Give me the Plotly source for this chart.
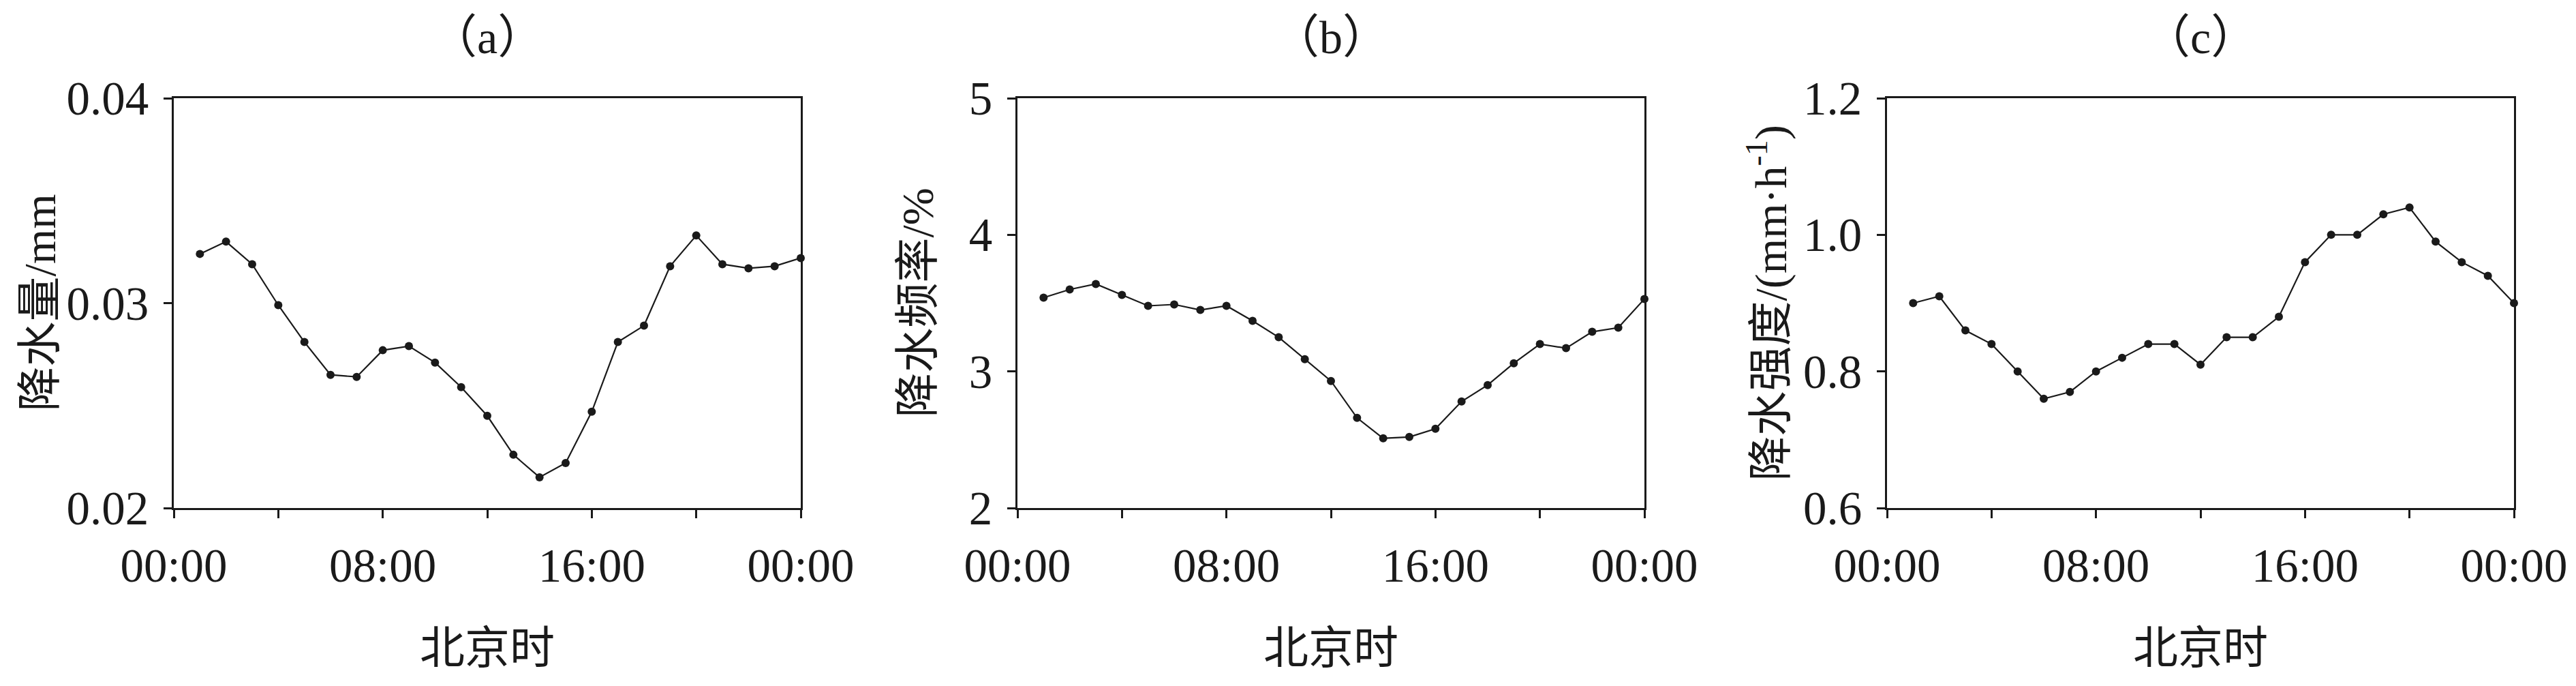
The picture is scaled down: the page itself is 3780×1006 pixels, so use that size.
import plotly.graph_objects as go

hours = list(range(1, 25))
precip_amount = [0.0324, 0.0330, 0.0319, 0.0299, 0.0281, 0.0265, 0.0264, 0.0277, 0.0279, 0.0271,
                 0.0259, 0.0245, 0.0226, 0.0215, 0.0222, 0.0247, 0.0281, 0.0289, 0.0318, 0.0333,
                 0.0319, 0.0317, 0.0318, 0.0322]
precip_freq = [3.54, 3.60, 3.64, 3.56, 3.48, 3.49, 3.45, 3.48, 3.37, 3.25,
               3.09, 2.93, 2.66, 2.51, 2.52, 2.58, 2.78, 2.90, 3.06, 3.20,
               3.17, 3.29, 3.32, 3.53]
precip_int = [0.90, 0.91, 0.86, 0.84, 0.80, 0.76, 0.77, 0.80, 0.82, 0.84,
              0.84, 0.81, 0.85, 0.85, 0.88, 0.96, 1.00, 1.00, 1.03, 1.04,
              0.99, 0.96, 0.94, 0.90]

x_tickvals = [0, 8, 16, 24]
x_ticktext = ["00:00", "08:00", "16:00", "00:00"]

panels = [
    dict(label="（a）", ytitle="降水量/mm", y=precip_amount, yrange=[0.02, 0.04],
         yticks=[0.02, 0.03, 0.04], ytext=["0.02", "0.03", "0.04"]),
    dict(label="（b）", ytitle="降水频率/%", y=precip_freq, yrange=[2, 5],
         yticks=[2, 3, 4, 5], ytext=["2", "3", "4", "5"]),
    dict(label="（c）", ytitle="降水强度/(mm·h<sup>-1</sup>)", y=precip_int, yrange=[0.6, 1.2],
         yticks=[0.6, 0.8, 1.0, 1.2], ytext=["0.6", "0.8", "1.0", "1.2"]),
]

W, H = 3780, 1006
left_px = [247, 1485, 2761]
plot_w = 920
top_px, bot_px = 136, 737
ytitle_x = [50, 1338, 2586]

FONT = "Liberation Serif, Times New Roman, Noto Sans CJK SC, serif"
INK = "#1a1a1a"

fig = go.Figure()
annotations = []
for i, p in enumerate(panels):
    n = "" if i == 0 else str(i + 1)
    fig.add_trace(go.Scatter(
        x=hours, y=p["y"], mode="lines+markers",
        line=dict(color=INK, width=2.2),
        marker=dict(color=INK, size=12),
        xaxis="x" + n, yaxis="y" + n, showlegend=False, cliponaxis=False))
    x0 = left_px[i] / W
    x1 = (left_px[i] + plot_w) / W
    common = dict(showline=True, linewidth=3, linecolor=INK, mirror=True,
                  ticks="outside", ticklen=12, tickwidth=3, tickcolor=INK,
                  showgrid=False, zeroline=False, automargin=False,
                  tickfont=dict(family=FONT, size=69, color=INK))
    fig.update_layout(**{
        "xaxis" + n: dict(domain=[x0, x1], range=[0, 24], tickmode="array",
                          tickvals=x_tickvals, ticktext=x_ticktext,
                          minor=dict(tickmode="array", tickvals=[4, 12, 20], ticks="outside",
                                     ticklen=12, tickwidth=3, tickcolor=INK, showgrid=False),
                          anchor="y" + n, ticklabelstandoff=10, **common),
        "yaxis" + n: dict(domain=[1 - bot_px / H, 1 - top_px / H], range=p["yrange"],
                          tickmode="array", tickvals=p["yticks"], ticktext=p["ytext"],
                          anchor="x" + n, ticklabelstandoff=8, **common),
    })
    cx = (left_px[i] + plot_w / 2) / W
    annotations.append(dict(text=p["label"], x=cx, y=1 - 47 / H, xref="paper", yref="paper",
                            showarrow=False, xanchor="center", yanchor="middle",
                            font=dict(family=FONT, size=68, color=INK)))
    annotations.append(dict(text="北京时", x=cx, y=1 - 942 / H, xref="paper", yref="paper",
                            showarrow=False, xanchor="center", yanchor="middle",
                            font=dict(family=FONT, size=66, color=INK)))
    annotations.append(dict(text=p["ytitle"], x=ytitle_x[i] / W, y=1 - ((top_px + bot_px) / 2) / H,
                            xref="paper", yref="paper", textangle=-90,
                            showarrow=False, xanchor="center", yanchor="middle",
                            font=dict(family=FONT, size=66, color=INK)))

fig.update_layout(width=W, height=H, margin=dict(l=0, r=0, t=0, b=0),
                  plot_bgcolor="white", paper_bgcolor="white",
                  annotations=annotations)
fig.write_html("out.html")
